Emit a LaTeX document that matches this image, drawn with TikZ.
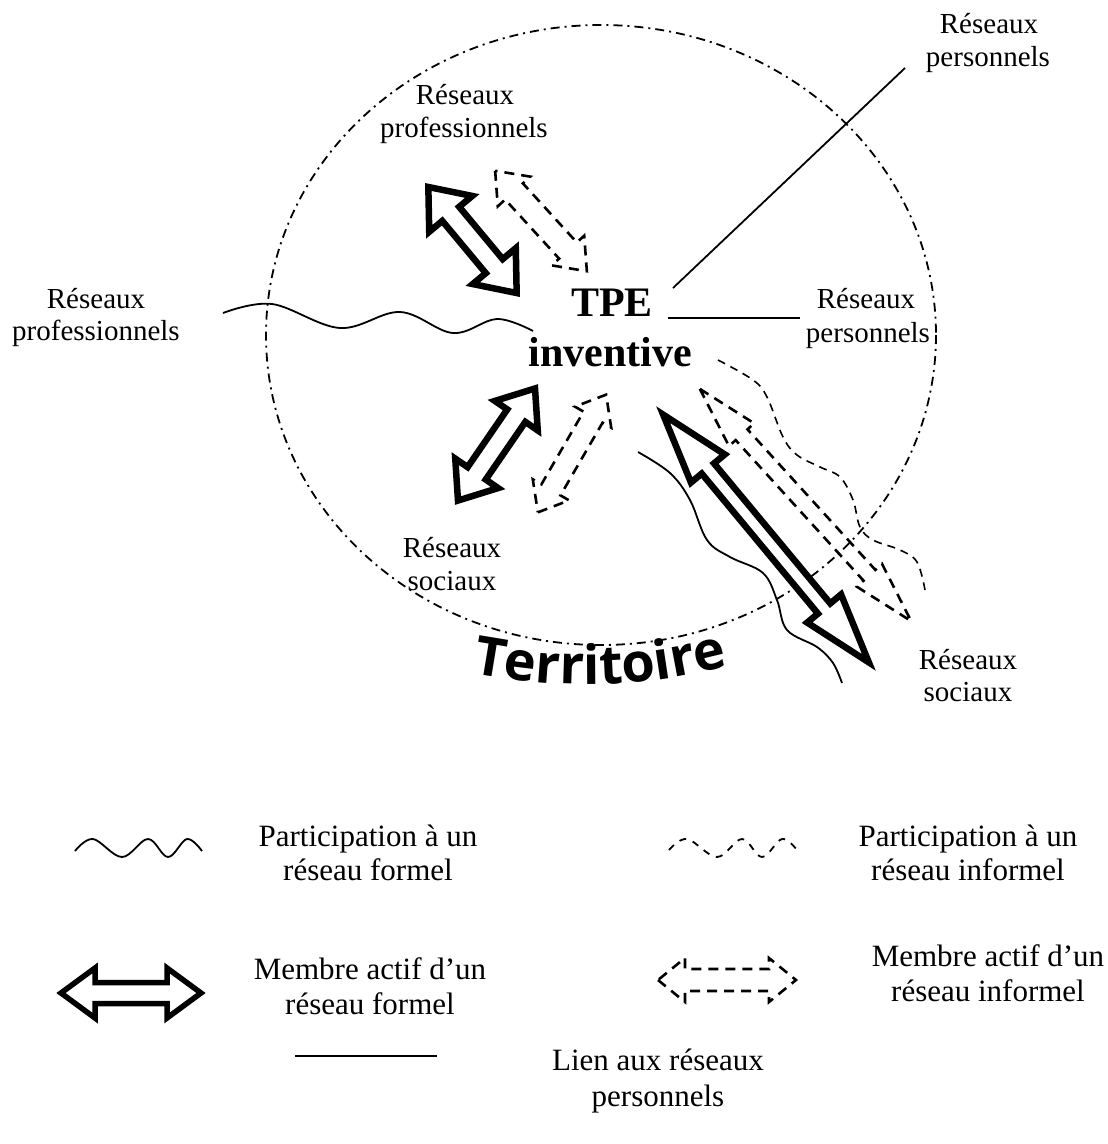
\documentclass[tikz,border=0pt]{standalone}
\usepackage{fontspec}
\setmainfont{Liberation Serif}
\newfontfamily\terrfont{Open Sans}
\usetikzlibrary{decorations.text}
\newcommand\blockarrow[7]{%
  \begin{scope}[shift={#2}, rotate=#3]
    \draw[#1] (-#4,0) -- (-#4+#5,#7) -- (-#4+#5,#6) -- (#4-#5,#6) -- (#4-#5,#7) -- (#4,0)
      -- (#4-#5,-#7) -- (#4-#5,-#6) -- (-#4+#5,-#6) -- (-#4+#5,-#7) -- cycle;
  \end{scope}}
\tikzset{
  lbl/.style={anchor=base, inner sep=0pt, font=\fontsize{29}{33}\selectfont},
  leg/.style={anchor=base, inner sep=0pt, font=\fontsize{31}{35}\selectfont},
  tpe/.style={anchor=base, inner sep=0pt, font=\bfseries\fontsize{42}{48}\selectfont},
  territ/.style={dash pattern=on 9pt off 5pt on 2pt off 5pt, line width=1.8pt},
  formal/.style={line width=1.8pt, line join=miter},
  informal/.style={line width=1.6pt, dash pattern=on 8pt off 6pt},
  thickarrow/.style={line width=6.5pt, line join=miter, fill=white},
  dasharrow/.style={line width=2.6pt, dash pattern=on 10pt off 7pt},
  perso/.style={line width=1.8pt}
}
\begin{document}
\begin{tikzpicture}[x=1pt,y=-1pt]
\useasboundingbox (0,0) rectangle (1108,1144);
% territory ellipse
\draw[territ] (601,335) ellipse [x radius=335, y radius=310];
% Territoire
\path[decorate, decoration={text along path, text align=center,
  text={|\terrfont\bfseries\fontsize{54}{54}\selectfont|Territoire}}]
  (466,672) .. controls (560,690) and (640,690) .. (734,664);
% labels
\node[lbl] (rpA1) at (989,33) {Réseaux};
\node[lbl] (rpA2) at (988,66) {personnels};
\node[lbl] (rprA1) at (465,104) {Réseaux};
\node[lbl] (rprA2) at (464,137) {professionnels};
\node[lbl] (rprB1) at (96,308) {Réseaux};
\node[lbl] (rprB2) at (96,340) {professionnels};
\node[lbl] (rpB1) at (866,308) {Réseaux};
\node[lbl] (rpB2) at (868,342) {personnels};
\node[tpe] (tpe1) at (612,316) {TPE};
\node[tpe] (tpe2) at (610,366) {inventive};
\node[lbl] (rsA1) at (452,557) {Réseaux};
\node[lbl] (rsA2) at (452,590) {sociaux};
\node[lbl] (rsB1) at (968,669) {Réseaux};
\node[lbl] (rsB2) at (968,701) {sociaux};
% personal network links
\coordinate (pA0) at (673,288); \coordinate (pA1) at (905,68);
\draw[perso] (pA0) -- (pA1);
\coordinate (pB0) at (668,318); \coordinate (pB1) at (800,318);
\draw[perso] (pB0) -- (pB1);
% formal waves
\draw[formal] plot[smooth, tension=0.6] coordinates {(223,313) (272,304) (340,328) (400,312) (453,333) (497,319) (533,331)};
\draw[formal] plot[smooth, tension=0.6] coordinates {(638,452) (670,473) (690,500) (707,540) (730,557) (763,573) (777,600) (787,630) (817,647) (833,663) (842,683)};
% informal wave
\draw[informal] plot[smooth, tension=0.6] coordinates {(718,360) (753,380) (767,397) (783,437) (797,455) (820,467) (840,477) (853,500) (860,527) (873,540) (900,550) (917,562) (925,590)};
% arrows
\blockarrow{thickarrow}{(472.5,240)}{-50.2}{69}{35}{11}{28}
\blockarrow{thickarrow}{(496.5,444.5)}{55.5}{68}{33}{11}{26}
\blockarrow{thickarrow}{(766,538.5)}{-50.3}{161}{70}{8}{22}
\blockarrow{dasharrow}{(541,221)}{-47.6}{68}{28}{12}{22}
\blockarrow{dasharrow}{(572,453.5)}{59.9}{68}{26}{11}{21}
\blockarrow{dasharrow}{(805.5,505)}{-47.7}{157}{62}{8}{17}
% legend
\draw[formal] plot[smooth, tension=0.6] coordinates {(75,851) (93,839) (122,857) (148,839) (168,857) (187,839) (202,851)};
\draw[informal, line width=1.8pt, dash pattern=on 7pt off 7pt] plot[smooth, tension=0.6] coordinates {(669,850) (687,839) (717,857) (742,839) (762,857) (782,839) (797,850)};
\blockarrow{thickarrow, line width=5.5pt}{(131,993)}{0}{70}{34}{10.5}{25}
\blockarrow{dasharrow}{(727,980)}{0}{69}{27}{11}{22}
\coordinate (lg0) at (295,1056); \coordinate (lg1) at (437,1056);
\draw[perso] (lg0) -- (lg1);
\node[leg] (l1a) at (368,846) {Participation à un};
\node[leg] (l1b) at (368,880) {réseau formel};
\node[leg] (l2a) at (968,846) {Participation à un};
\node[leg] (l2b) at (968,880) {réseau informel};
\node[leg] (l3a) at (370,979) {Membre actif d’un};
\node[leg] (l3b) at (370,1014) {réseau formel};
\node[leg] (l4a) at (988,966) {Membre actif d’un};
\node[leg] (l4b) at (988,1001) {réseau informel};
\node[leg] (l5a) at (658,1070) {Lien aux réseaux};
\node[leg] (l5b) at (658,1106) {personnels};
\end{tikzpicture}
\end{document}
